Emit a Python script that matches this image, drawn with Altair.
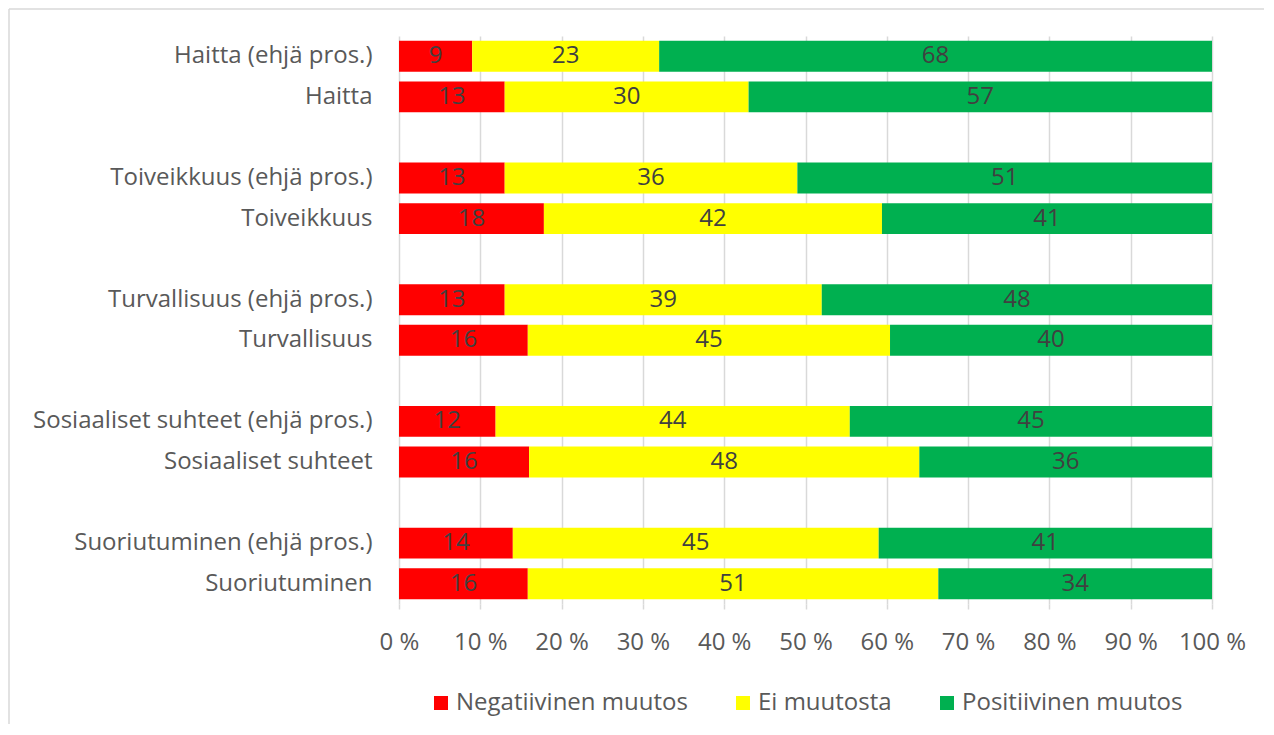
import altair as alt
import pandas as pd

categories = [
    "Haitta (ehjä pros.)", "Haitta\u00a0", " ",
    "Toiveikkuus (ehjä pros.)", "Toiveikkuus", "  ",
    "Turvallisuus (ehjä pros.)", "Turvallisuus", "   ",
    "Sosiaaliset suhteet (ehjä pros.)", "Sosiaaliset suhteet", "    ",
    "Suoriutuminen (ehjä pros.)", "Suoriutuminen",
]
bar_rows = [
    "Haitta (ehjä pros.)", "Haitta\u00a0",
    "Toiveikkuus (ehjä pros.)", "Toiveikkuus",
    "Turvallisuus (ehjä pros.)", "Turvallisuus",
    "Sosiaaliset suhteet (ehjä pros.)", "Sosiaaliset suhteet",
    "Suoriutuminen (ehjä pros.)", "Suoriutuminen",
]
series = ["Negatiivinen muutos", "Ei muutosta", "Positiivinen muutos"]
colors = ["#FF0000", "#FFFF00", "#00B050"]
negatiivinen = [9, 13, 13, 18, 13, 16, 12, 16, 14, 16]
ei_muutosta = [23, 30, 36, 42, 39, 45, 44, 48, 45, 51]
positiivinen = [68, 57, 51, 41, 48, 40, 45, 36, 41, 34]
x_ticks = [0, 0.1, 0.2, 0.3, 0.4, 0.5, 0.6, 0.7, 0.8, 0.9, 1.0]

rows = []
for i, cat in enumerate(bar_rows):
    for j, (s, vals) in enumerate(zip(series, [negatiivinen, ei_muutosta, positiivinen])):
        rows.append({"cat": cat, "series": s, "order": j, "value": vals[i]})
df = pd.DataFrame(rows)

FONT = "Open Sans"
FS = 24

base = alt.Chart(df).transform_stack(
    stack="value", as_=["x0", "x1"], groupby=["cat"],
    sort=[alt.SortField("order", order="ascending")], offset="normalize",
).transform_calculate(mid="(datum.x0 + datum.x1) / 2")

y_scale = alt.Scale(domain=categories, paddingInner=0.24, paddingOuter=0.12)

y_enc = alt.Y(
    "cat:N",
    scale=y_scale,
    axis=alt.Axis(
        title=None, ticks=False, domain=False, labelFontSize=FS, labelFont=FONT,
        labelColor="#595959", labelPadding=27, labelLimit=0,
    ),
)

bars = base.mark_bar().encode(
    x=alt.X(
        "x0:Q",
        scale=alt.Scale(domain=[0, 1], nice=False),
        axis=alt.Axis(
            title=None, values=x_ticks, labelExpr="round(datum.value*100) + ' %'",
            labelFontSize=FS, labelFont=FONT, labelColor="#595959", labelPadding=21,
            labelOverlap=False, labelFlush=False,
            grid=True, gridColor="#d9d9d9", gridWidth=1.5,
            domain=False, tickColor="#d9d9d9", tickSize=5, tickWidth=1.5,
        ),
    ),
    x2="x1:Q",
    y=y_enc,
    color=alt.Color(
        "series:N",
        scale=alt.Scale(domain=series, range=colors),
        legend=alt.Legend(
            title=None, orient="none", direction="horizontal", legendX=30, legendY=655,
            symbolType="square", symbolSize=196, symbolStrokeWidth=0,
            labelFontSize=FS, labelFont=FONT, labelColor="#595959", labelOffset=3,
            labelLimit=0, columnPadding=43,
        ),
    ),
)

labels = base.mark_text(fontSize=FS, font=FONT, color="#404040").encode(
    x="mid:Q",
    y=alt.Y("cat:N", scale=y_scale),
    text="value:Q",
)

# chart-area frame (top and left edges, as in the reference)
frame_src = alt.Chart(pd.DataFrame({"k": [0]}))
frame_top = frame_src.mark_rule(color="#d9d9d9", strokeWidth=1.5).encode(
    x=alt.value(-390), x2=alt.value(865), y=alt.value(-27)
)
frame_left = frame_src.mark_rule(color="#d9d9d9", strokeWidth=1.5).encode(
    x=alt.value(-390), y=alt.value(-27), y2=alt.value(688)
)

chart = (bars + labels + frame_top + frame_left).properties(
    width=813, height=568,
    padding={"left": 391, "top": 28, "right": 52, "bottom": 120},
    autosize=alt.AutoSizeParams(type="none"),
).configure_view(stroke=None)

chart.save("out.html", embed_options={"renderer": "svg", "actions": False})
